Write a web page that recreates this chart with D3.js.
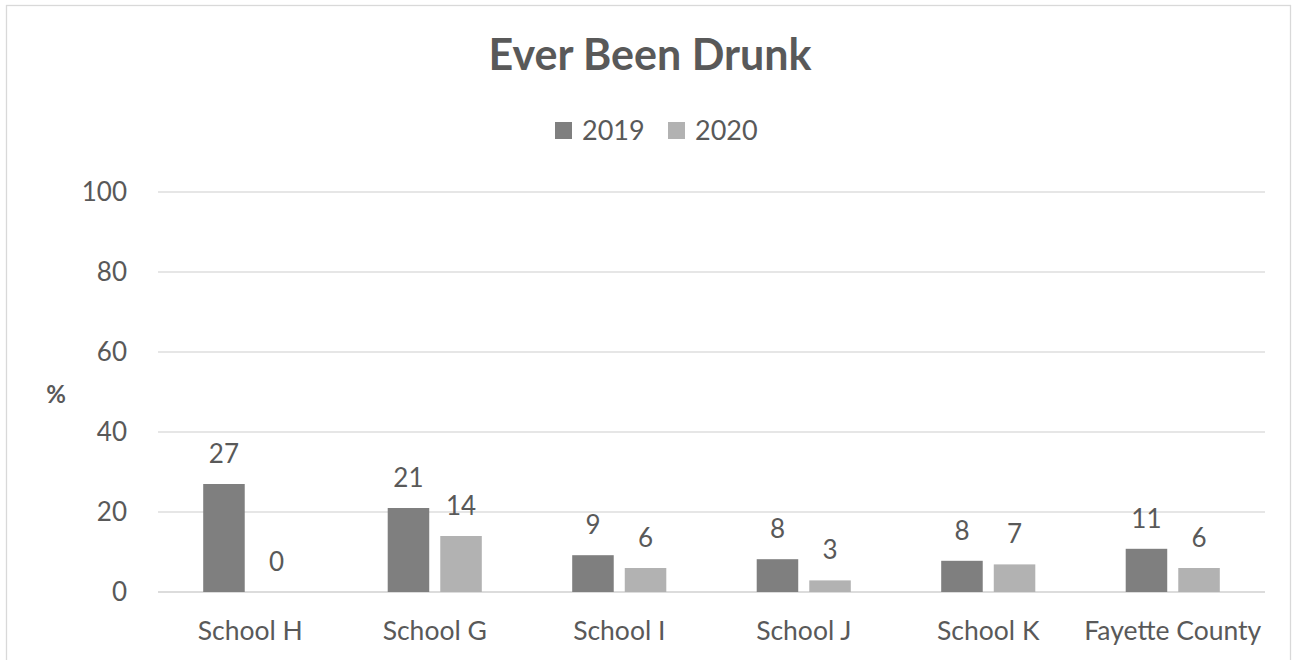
<!DOCTYPE html>
<html>
<head>
<meta charset="utf-8">
<script src="https://cdn.jsdelivr.net/npm/d3@7"></script>
<style>
  body { margin: 0; padding: 0; background: #fff; }
  text { font-family: Lato, 'Open Sans', sans-serif; fill: #595959; }
</style>
</head>
<body>
<div id="main"></div>
<script>
const categories = ['School H', 'School G', 'School I', 'School J', 'School K', 'Fayette County'];
const seriesNames = ['2019', '2020'];
const values2019 = [27, 21, 9.2, 8.2, 7.8, 10.8];
const values2020 = [0, 14, 6, 2.9, 6.9, 6];
const yTicks = [0, 20, 40, 60, 80, 100];
const colours = ['#7f7f7f', '#b2b2b2'];

const WIDTH = 1295;
const HEIGHT = 660;
const PLOTLEFT = 158;
const PLOTRIGHT = 1265;
const PLOTTOP = 192;
const PLOTBOTTOM = 592;

const dataSet = categories.map((c, i) => ({category: c, values: [values2019[i], values2020[i]]}));

const svg = d3.select('#main').append('svg').attr('width', WIDTH).attr('height', HEIGHT);

svg.append('rect')
    .attr('x', 6.5).attr('y', 5.5)
    .attr('width', 1284).attr('height', 700)
    .attr('fill', '#fff').attr('stroke', '#d9d9d9').attr('stroke-width', 1.3);

const scaleX = d3.scaleBand().domain(categories).range([PLOTLEFT, PLOTRIGHT]).paddingInner(0.49).paddingOuter(0.245);
const scaleSeries = d3.scaleBand().domain(seriesNames).range([0, scaleX.bandwidth()]).paddingInner(0.21);
const scaleY = d3.scaleLinear().domain([0, 100]).range([PLOTBOTTOM, PLOTTOP]);

// gridlines
svg.append('g').selectAll('line').data(yTicks).enter().append('line')
    .attr('x1', PLOTLEFT).attr('x2', PLOTRIGHT)
    .attr('y1', (d) => scaleY(d)).attr('y2', (d) => scaleY(d))
    .attr('stroke', (d) => d === 0 ? '#d0d0d0' : '#dedede')
    .attr('stroke-width', 1.3);

// y axis labels
const axisY = d3.axisLeft(scaleY).tickValues(yTicks).tickSize(0).tickPadding(0);
const gy = svg.append('g').attr('transform', `translate(${127}, 0)`).call(axisY);
gy.select('.domain').remove();
gy.selectAll('text').attr('font-size', 26).attr('fill', '#595959').style('font-family', 'Lato, sans-serif');

// x axis labels
const axisX = d3.axisBottom(scaleX).tickSize(0).tickPadding(0);
const gx = svg.append('g').attr('transform', `translate(0, ${PLOTBOTTOM})`).call(axisX);
gx.select('.domain').remove();
gx.selectAll('text').attr('font-size', 26.5).attr('dy', 0).attr('y', 48).attr('fill', '#595959').style('font-family', 'Lato, sans-serif');

// bars
const groups = svg.append('g').selectAll('g').data(dataSet).enter().append('g')
    .attr('transform', (d) => `translate(${scaleX(d.category)}, 0)`);
const bars = groups.selectAll('rect').data((d) => d.values.map((v, i) => ({series: seriesNames[i], value: v, idx: i}))).enter();
bars.append('rect')
    .attr('x', (d) => scaleSeries(d.series))
    .attr('y', (d) => scaleY(d.value))
    .attr('width', scaleSeries.bandwidth())
    .attr('height', (d) => PLOTBOTTOM - scaleY(d.value))
    .attr('fill', (d) => colours[d.idx]);
bars.append('text')
    .attr('x', (d) => scaleSeries(d.series) + scaleSeries.bandwidth() / 2)
    .attr('y', (d) => scaleY(d.value) - 21)
    .attr('text-anchor', 'middle')
    .attr('font-size', 26)
    .text((d) => d3.format('.0f')(d.value));

// title
svg.append('text').attr('x', 650).attr('y', 70).attr('text-anchor', 'middle')
    .attr('font-size', 43).attr('font-weight', 'bold').text('Ever Been Drunk');

// axis title
svg.append('text').attr('x', 56).attr('y', 403).attr('text-anchor', 'middle')
    .attr('font-size', 24).attr('font-weight', 'bold').text('%');

// legend
const legendX = [555, 668];
const legend = svg.append('g').selectAll('g').data(seriesNames).enter().append('g')
    .attr('transform', (d, i) => `translate(${legendX[i]}, 0)`);
legend.append('rect').attr('x', 0).attr('y', 122).attr('width', 17).attr('height', 17)
    .attr('fill', (d, i) => colours[i]);
legend.append('text').attr('x', 27).attr('y', 140).attr('font-size', 27).text((d) => d);
</script>
</body>
</html>
